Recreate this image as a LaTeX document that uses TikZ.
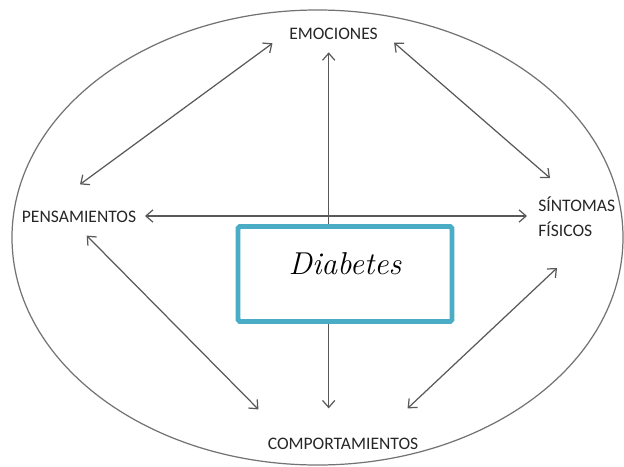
\documentclass[tikz,border=0pt]{standalone}
\usepackage{fontspec}
\newfontfamily\labelfont{Carlito}
\usetikzlibrary{arrows.meta}
\definecolor{aqua}{RGB}{75,172,198}
\begin{document}
\begin{tikzpicture}[
  x=0.02cm, y=-0.02cm,
  lbl/.style={inner sep=0pt, font=\labelfont\fontsize{10}{14.2}\selectfont, text=black!85},
  link/.style={draw=black!65, line width=0.7pt,
               {Straight Barb[length=4pt,width=7pt]}-{Straight Barb[length=4pt,width=7pt]}},
  ring/.style={draw=black!55, line width=0.7pt},
  diabbox/.style={rectangle, draw=aqua, fill=white, line width=2.8pt, rounded corners=1pt,
                  minimum width=4.28cm, minimum height=1.9cm},
]
  \useasboundingbox (0,0) rectangle (624,466);

  % outer ellipse
  \draw[ring] (317.5,237.5) ellipse [x radius=305.5, y radius=227.5];

  % the four labels
  \node[lbl] (emo) at (333.5,34) {EMOCIONES};
  \node[lbl] (pen) at (79,217) {PENSAMIENTOS};
  \node[lbl, anchor=west, align=left] (sin) at (538,217) {SÍNTOMAS\\FÍSICOS};
  \node[lbl] (comp) at (343,443.5) {COMPORTAMIENTOS};

  % arrows between labels
  \draw[link] ([shift={(1,-26.5)}]pen.north) -- ([shift={(-16.4,9.3)}]emo.west);
  \draw[link] ([shift={(16,8.7)}]emo.east) -- ([shift={(12,-39)}]sin.west);
  \draw[link] ([shift={(-4.8,12.2)}]emo.south) -- ([shift={(-14.3,-29)}]comp.north);
  \draw[link] ([shift={(8.5,-1)}]pen.east) -- ([shift={(-11,-1)}]sin.west);
  \draw[link] ([shift={(7.7,12.5)}]pen.south) -- ([shift={(-9,-28)}]comp.north west);
  \draw[link] ([shift={(19,51)}]sin.west) -- ([shift={(-11,-29)}]comp.north east);

  % centre box on top of the vertical arrow
  \node[diabbox] (box) at (345,274) {};
  \node[inner sep=0pt, font=\itshape\fontsize{18}{20}\selectfont] (diab) at ([yshift=6pt]box.center) {Diabetes};
\end{tikzpicture}
\end{document}
